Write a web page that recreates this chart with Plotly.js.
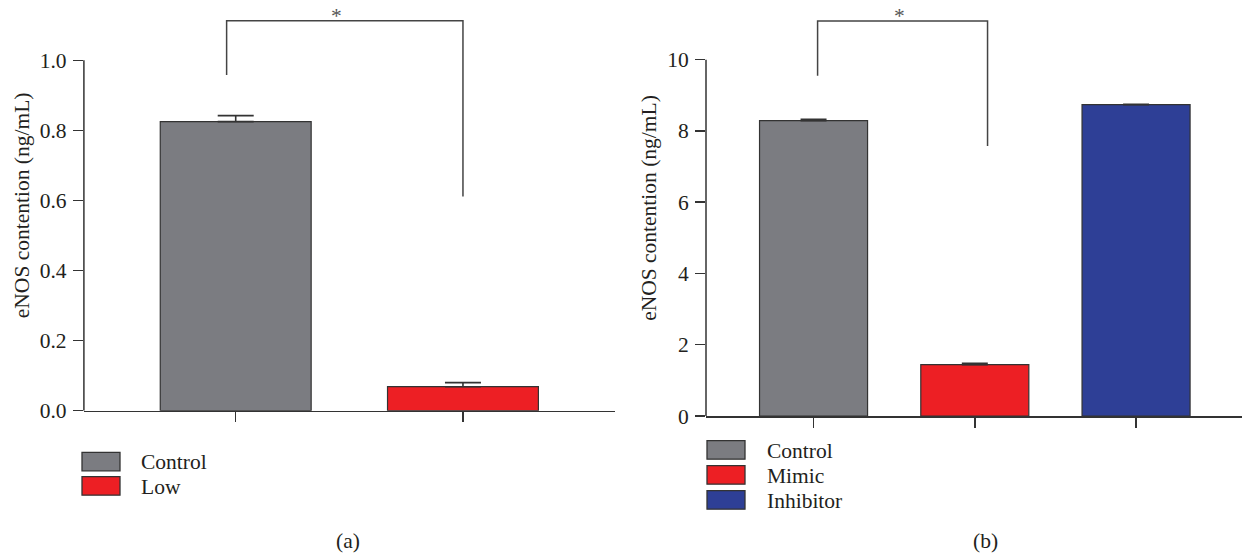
<!DOCTYPE html>
<html>
<head>
<meta charset="utf-8">
<script src="https://cdn.plot.ly/plotly-3.0.1.min.js"></script>
<style>html,body{margin:0;padding:0;background:#fff;}#chart{width:1242px;height:554px;}</style>
</head>
<body>
<div id="chart"></div>
<script>
// ---- data ----
const categoriesA = ['Control', 'Low'];
const valuesA = [0.825, 0.0685];
const errorsA = [0.017, 0.0115];
const colorsA = ['#7b7c81', '#ed1f24'];

const categoriesB = ['Control', 'Mimic', 'Inhibitor'];
const valuesB = [8.29, 1.44, 8.74];
const errorsB = [0.04, 0.04, 0.01];
const colorsB = ['#7b7c81', '#ed1f24', '#2e3f96'];

const yTicksA = [0, 0.2, 0.4, 0.6, 0.8, 1.0];
const yTicksB = [0, 2, 4, 6, 8, 10];
const yTitle = 'eNOS contention (ng/mL)';

// significance brackets
const sigA = {x0: -0.04, x1: 1.0, top: 1.113, left: 0.958, right: 0.611, starX: 0.442, label: '*'};
const sigB = {x0: 0.025, x1: 1.079, top: 11.086, left: 9.551, right: 7.578, starX: 0.531, label: '*'};

const captions = ['(a)', '(b)'];

// ---- layout helpers ----
const W = 1242, H = 554;
const px = v => v / W;
const py = v => 1 - v / H;
const FONT = 'Liberation Serif, Times New Roman, serif';
const FS = 21.5;
const TXT = '#231f20';
const AX = '#333333';

const traces = [
  {
    type: 'bar', x: categoriesA, y: valuesA, xaxis: 'x', yaxis: 'y', width: 0.664,
    marker: {color: colorsA, line: {color: AX, width: 1.2}},
    error_y: {type: 'data', array: errorsA, arrayminus: errorsA.map(() => 0), symmetric: false,
              color: AX, thickness: 1.6, width: 18},
    hoverinfo: 'x+y', showlegend: false
  },
  {
    type: 'bar', x: categoriesB, y: valuesB, xaxis: 'x2', yaxis: 'y2', width: 0.67,
    marker: {color: colorsB, line: {color: AX, width: 1.2}},
    error_y: {type: 'data', array: errorsB, arrayminus: errorsB.map(() => 0), symmetric: false,
              color: AX, thickness: 1.6, width: 13},
    hoverinfo: 'x+y', showlegend: false
  }
];

function xAxis(domain, cats, range, anchor) {
  return {
    domain: domain, anchor: anchor, type: 'category', categoryorder: 'array', categoryarray: cats,
    range: range, showline: true, linecolor: AX, linewidth: 1.5,
    ticks: 'outside', ticklen: 10, tickwidth: 1.5, tickcolor: AX,
    showticklabels: false, showgrid: false, zeroline: false, fixedrange: true
  };
}
function yAxis(domain, range, ticks, fmt, anchor) {
  return {
    domain: domain, anchor: anchor, range: range, tickvals: ticks, tickformat: fmt,
    showline: false, ticks: 'outside', ticklen: 10, tickwidth: 1.5, tickcolor: AX,
    tickfont: {family: FONT, size: FS, color: TXT}, ticklabelstandoff: 2,
    title: {text: yTitle, font: {family: FONT, size: FS, color: TXT}, standoff: 4},
    showgrid: false, zeroline: false, fixedrange: true
  };
}

const shapes = [];
const annotations = [];

// y axis lines up to the top tick only
[['x', 'y', yTicksA], ['x2', 'y2', yTicksB]].forEach(([xa, ya, t]) => {
  shapes.push({type: 'line', xref: xa + ' domain', yref: ya, x0: 0, x1: 0, y0: t[0], y1: t[t.length - 1],
               line: {color: AX, width: 1.5}});
});

// brackets
[[sigA, 'x', 'y'], [sigB, 'x2', 'y2']].forEach(([s, xa, ya]) => {
  shapes.push({type: 'path', xref: xa, yref: ya,
    path: `M${s.x0},${s.left} L${s.x0},${s.top} L${s.x1},${s.top} L${s.x1},${s.right}`,
    line: {color: '#444', width: 1.5}});
  annotations.push({xref: xa, yref: ya, x: s.starX, y: s.top, text: s.label, showarrow: false,
    yanchor: 'bottom', yshift: -9, font: {family: FONT, size: FS, color: '#555'}});
});

// manual legends (large swatches)
function legend(cats, colors, boxX, textX, y0, step) {
  cats.forEach((c, i) => {
    const top = y0 + i * step;
    shapes.push({type: 'rect', xref: 'paper', yref: 'paper',
      x0: px(boxX), x1: px(boxX + 38), y0: py(top), y1: py(top + 18.5),
      fillcolor: colors[i], line: {color: AX, width: 1.3}});
    annotations.push({xref: 'paper', yref: 'paper', x: px(textX), y: py(top + 10), xanchor: 'left', yanchor: 'middle',
      text: c, showarrow: false, font: {family: FONT, size: FS, color: TXT}});
  });
}
legend(categoriesA, colorsA, 82, 139, 452.3, 24.4);
legend(categoriesB, colorsB, 707, 765, 440.7, 25);

// captions
[[captions[0], 348], [captions[1], 985]].forEach(([t, x]) => {
  annotations.push({xref: 'paper', yref: 'paper', x: px(x), y: py(541), xanchor: 'center', yanchor: 'middle',
    text: t, showarrow: false, font: {family: FONT, size: FS, color: TXT}});
});

const layout = {
  width: W, height: H, margin: {l: 0, r: 0, t: 0, b: 0},
  paper_bgcolor: '#fff', plot_bgcolor: 'rgba(0,0,0,0)',
  showlegend: false, bargap: 0,
  xaxis: xAxis([px(83.9), px(615)], categoriesA, [-0.668, 1.669], 'y'),
  yaxis: yAxis([py(410.7), 1], [0, 410.7 / 350.4], yTicksA, '.1f', 'x'),
  xaxis2: xAxis([px(706), 1], categoriesB, [-0.667, 2.657], 'y2'),
  yaxis2: yAxis([py(416), 1], [0, 416 / 35.63], yTicksB, 'd', 'x2'),
  shapes: shapes, annotations: annotations
};

Plotly.newPlot('chart', traces, layout, {displayModeBar: false, staticPlot: true});
</script>
</body>
</html>
